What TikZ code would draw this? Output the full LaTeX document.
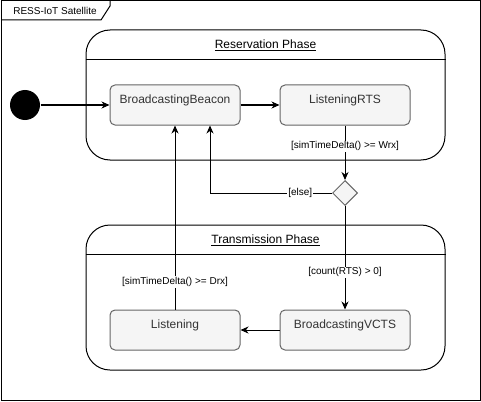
\documentclass[tikz,border=0pt]{standalone}
\usepackage{fontspec}
\setmainfont{Liberation Sans}
\usetikzlibrary{arrows.meta,positioning,shapes.geometric}
\definecolor{stateline}{HTML}{666666}
\definecolor{statefill}{HTML}{F5F5F5}
\definecolor{statetext}{HTML}{333333}
\tikzset{
    statebox/.style={draw=stateline, fill=statefill, rounded corners=5pt, minimum width=130pt, minimum height=40pt, inner sep=4pt, text height=14pt, text depth=18pt, text=statetext, font=\fontsize{12}{14}\selectfont},
    phase/.style={draw, rounded corners=24pt, minimum width=359pt, inner sep=0pt},
    phasetitle/.style={font=\fontsize{12}{14}\selectfont},
    guard/.style={fill=white, inner sep=1pt, font=\fontsize{10}{12}\selectfont},
    arr/.style={-{Stealth[length=8pt, width=7pt, inset=2.5pt]}}
}
\begin{document}
\begin{tikzpicture}[x=1pt, y=-1pt, line width=1pt]
    \useasboundingbox (0,0) rectangle (481,401);
    
    % Frame
    \draw (1,1) rectangle (480,400);
    \draw (1,20) -- (101,20) -- (110,6) -- (110,1);
    \node[font=\fontsize{10}{12}\selectfont] (frametitle) at (55,11) {RESS-IoT Satellite};
    
    % Phases
    \node[phase, minimum height=130pt] (resv) at (265.5,95) {};
    \draw ([yshift=-30pt]resv.north west) -- ([yshift=-30pt]resv.north east);
    \node[phasetitle] (resvtitle) at (265.5,45) {\underline{Reservation Phase}};
    
    \node[phase, minimum height=145pt] (trans) at (265.5,297.5) {};
    \draw ([yshift=-30pt]trans.north west) -- ([yshift=-30pt]trans.north east);
    \node[phasetitle] (transtitle) at (265.5,240) {\underline{Transmission Phase}};
    
    % States
    \node[circle, fill=black, minimum size=30pt, inner sep=0pt] (init) at (25,105) {};
    \node[statebox] (beacon) at (175,105) {BroadcastingBeacon};
    \node[statebox] (rts)    at (345,105) {ListeningRTS};
    \node[statebox] (listen) at (175,330) {Listening};
    \node[statebox] (vcts)   at (345,330) {BroadcastingVCTS};
    \node[diamond, draw=stateline, fill=statefill, minimum size=25pt, inner sep=0pt] (choice) at (345,193) {};
    
    % Transitions
    \draw[arr] (init) -- (beacon);
    \draw[arr] (beacon) -- (rts);
    \draw[arr] (rts) -- node[guard, pos=0.38] {[simTimeDelta() >= Wrx]} (choice);
    \draw[arr] (choice.west) -| node[guard, pos=0.13] {[else]} ([xshift=35pt]beacon.south);
    \draw[arr] (choice) -- node[guard, pos=0.64] {[count(RTS) > 0]} (vcts);
    \draw[arr] (vcts) -- (listen);
    \draw[arr] (listen) -- node[guard, pos=0.15] {[simTimeDelta() >= Drx]} (beacon);
\end{tikzpicture}
\end{document}
